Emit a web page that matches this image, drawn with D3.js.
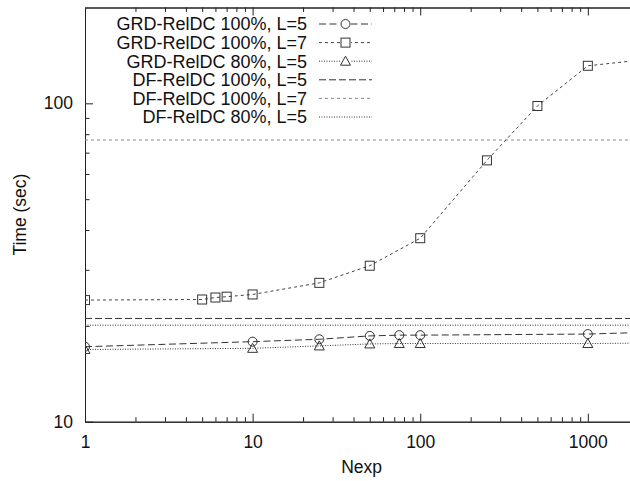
<!DOCTYPE html>
<html><head><meta charset="utf-8">
<script src="https://cdn.jsdelivr.net/npm/d3@7"></script>
<style>
body{margin:0;background:#fff}
svg{display:block}
text{font-family:"Liberation Sans",Arial,Helvetica,sans-serif;fill:#111}
</style>
</head><body>
<svg id="chart" width="630" height="481"></svg>
<script>
// ---- data ----
const legendLabels = ["GRD-RelDC 100%, L=5","GRD-RelDC 100%, L=7","GRD-RelDC 80%, L=5",
                      "DF-RelDC 100%, L=5","DF-RelDC 100%, L=7","DF-RelDC 80%, L=5"];
const grd100L5_x = [1,10,25,50,75,100,1000,2000];
const grd100L5_y = [17.2,17.84,18.15,18.6,18.7,18.7,18.85,19.05];
const grd100L7_x = [1,5,6,7,10,25,50,100,250,500,1000,2000];
const grd100L7_y = [24.1,24.2,24.55,24.7,25.1,27.3,30.9,37.7,66.2,98.1,131.2,136.5];
const grd80L5_x = [1,10,25,50,75,100,1000,2000];
const grd80L5_y = [16.86,17.0,17.3,17.55,17.6,17.6,17.6,17.65];
const df100L5 = [21.1];
const df100L7 = [76.7];
const df80L5 = [20.1];
const xTickValues = [1,10,100,1000];
const yTickValues = [10,100];
const xDomain = [1,2000];
const yDomain = [10,200];

// ---- layout ----
const svg = d3.select("#chart");
const L = 85, R = 638.3, T = 7.5, B = 421.7;
const x = d3.scaleLog().domain(xDomain).range([L,R]);
const y = d3.scaleLog().domain(yDomain).range([B,T]);

const styles = [
  {dash:"7,3.5", color:"#333", marker:"circle"},
  {dash:"3,3", color:"#444", marker:"square"},
  {dash:"1,1.5", color:"#333", marker:"triangle"},
  {dash:"7,3", color:"#333", marker:null},
  {dash:"3,3", color:"#888", marker:null},
  {dash:"1,1.5", color:"#333", marker:null}
];

svg.append("clipPath").attr("id","clip").append("rect")
  .attr("x",L).attr("y",T).attr("width",R-L).attr("height",B-T);

// minor tick values
const xMinor = [];
[1,10,100,1000].forEach(d=>{for(let k=2;k<=9;k++){const v=d*k; if(v<2000) xMinor.push(v);}});
const yMinor = [];
[10,100].forEach(d=>{for(let k=2;k<=9;k++){const v=d*k; if(v<200) yMinor.push(v);}});

const axisColor = "#222";
// bottom axis with inward ticks
const gB = svg.append("g").attr("transform",`translate(0,${B})`);
gB.call(d3.axisBottom(x).tickValues(xTickValues).tickFormat(d3.format("d")).tickSize(-8).tickPadding(14).tickSizeOuter(0));
gB.append("g").call(d3.axisBottom(x).tickValues(xMinor).tickFormat("").tickSize(-4.5).tickSizeOuter(0));
// top axis mirrored
const gT = svg.append("g").attr("transform",`translate(0,${T})`);
gT.call(d3.axisTop(x).tickValues(xTickValues).tickFormat("").tickSize(-8).tickSizeOuter(0));
gT.append("g").call(d3.axisTop(x).tickValues(xMinor).tickFormat("").tickSize(-4.5).tickSizeOuter(0));
// left axis
const gL = svg.append("g").attr("transform",`translate(${L},0)`);
gL.call(d3.axisLeft(y).tickValues(yTickValues).tickFormat(d3.format("d")).tickSize(-8).tickPadding(12).tickSizeOuter(0));
gL.append("g").call(d3.axisLeft(y).tickValues(yMinor).tickFormat("").tickSize(-4.5).tickSizeOuter(0));

svg.selectAll(".domain").attr("stroke",axisColor);
svg.selectAll(".tick line").attr("stroke",axisColor);
svg.selectAll(".tick text").attr("font-size","17.5px").attr("fill","#111")
  .attr("font-family","'Liberation Sans',Arial,Helvetica,sans-serif");

// axis titles
svg.append("text").attr("transform",`translate(26,${(T+B)/2}) rotate(-90)`)
  .attr("text-anchor","middle").attr("font-size","17.5px").text("Time (sec)");
svg.append("text").attr("x",(L+R)/2).attr("y",473)
  .attr("text-anchor","middle").attr("font-size","17.5px").text("Nexp");

// plot
const plot = svg.append("g").attr("clip-path","url(#clip)");
const line = d3.line().x(d=>x(d[0])).y(d=>y(d[1]));

function drawMarker(g, type, cx, cy, color){
  if(type==="circle"){
    g.append("circle").attr("cx",cx).attr("cy",cy).attr("r",4.5)
      .attr("fill","none").attr("stroke",color).attr("stroke-width",1);
  } else if(type==="square"){
    g.append("rect").attr("x",cx-4.5).attr("y",cy-4.5).attr("width",9).attr("height",9)
      .attr("fill","none").attr("stroke",color).attr("stroke-width",1);
  } else if(type==="triangle"){
    const s=5;
    g.append("path").attr("d",`M${cx},${cy-s}L${cx+s},${cy+s*0.8}L${cx-s},${cy+s*0.8}Z`)
      .attr("fill","none").attr("stroke",color).attr("stroke-width",1);
  }
}

const grdSeries = [
  {xs:grd100L5_x, ys:grd100L5_y, st:styles[0]},
  {xs:grd100L7_x, ys:grd100L7_y, st:styles[1]},
  {xs:grd80L5_x, ys:grd80L5_y, st:styles[2]}
];
const dfSeries = [
  {v:df100L5[0], st:styles[3]},
  {v:df100L7[0], st:styles[4]},
  {v:df80L5[0], st:styles[5]}
];

dfSeries.forEach(s=>{
  plot.append("path").datum([[xDomain[0],s.v],[xDomain[1],s.v]])
    .attr("d",line).attr("fill","none").attr("stroke",s.st.color)
    .attr("stroke-width",1).attr("stroke-dasharray",s.st.dash);
});
grdSeries.forEach(s=>{
  const pts = s.xs.map((v,i)=>[v,s.ys[i]]);
  plot.append("path").datum(pts).attr("d",line).attr("fill","none")
    .attr("stroke",s.st.color).attr("stroke-width",1).attr("stroke-dasharray",s.st.dash);
  pts.forEach(p=>drawMarker(plot, s.st.marker, x(p[0]), y(p[1]), "#333"));
});

// legend
const legX = 307, rowY0 = 24, rowH = 18.6, sx1 = 319, sx2 = 372;
legendLabels.forEach((lab,i)=>{
  const yy = rowY0 + i*rowH;
  svg.append("text").attr("x",legX).attr("y",yy).attr("dy","0.35em")
    .attr("text-anchor","end").attr("font-size","18px").text(lab);
  const st = styles[i];
  svg.append("line").attr("x1",sx1).attr("x2",sx2).attr("y1",yy).attr("y2",yy)
    .attr("stroke",st.color).attr("stroke-width",1).attr("stroke-dasharray",st.dash);
  if(st.marker){
    svg.append("rect").attr("x",(sx1+sx2)/2-5.5).attr("y",yy-5.5).attr("width",11).attr("height",11).attr("fill","#fff");
    drawMarker(svg, st.marker, (sx1+sx2)/2, yy, "#333");
  }
});
</script>
</body></html>
